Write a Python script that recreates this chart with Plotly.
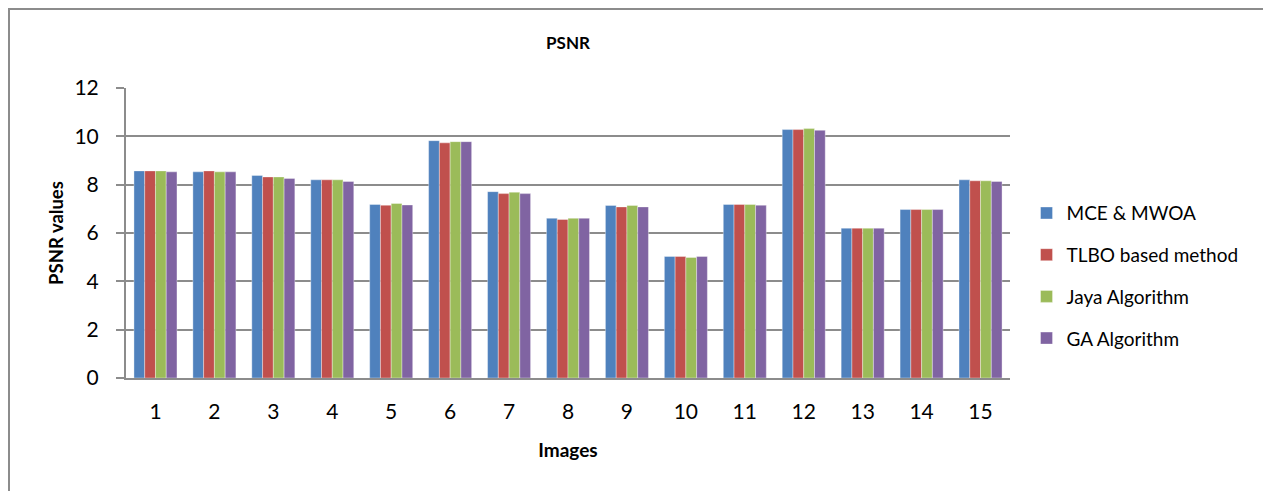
import plotly.graph_objects as go

images = [str(i) for i in range(1, 16)]
mce_mwoa = [8.57, 8.53, 8.38, 8.20, 7.18, 9.82, 7.71, 6.61, 7.14, 5.03, 7.18, 10.28, 6.20, 6.97, 8.20]
tlbo = [8.57, 8.57, 8.32, 8.20, 7.15, 9.73, 7.63, 6.56, 7.08, 5.03, 7.18, 10.28, 6.20, 6.97, 8.16]
jaya = [8.57, 8.53, 8.32, 8.20, 7.22, 9.78, 7.69, 6.61, 7.14, 4.99, 7.18, 10.32, 6.20, 6.97, 8.16]
ga = [8.53, 8.53, 8.26, 8.13, 7.16, 9.78, 7.63, 6.61, 7.08, 5.03, 7.15, 10.25, 6.20, 6.97, 8.13]

series_names = ["MCE & MWOA", "TLBO based method", "Jaya Algorithm", "GA Algorithm"]
series_values = [mce_mwoa, tlbo, jaya, ga]
colors = ["#4F81BD", "#C0504D", "#9BBB59", "#8064A2"]

FONT = "Lato, 'Open Sans', sans-serif"

fig = go.Figure()
for i, (name, vals, col) in enumerate(zip(series_names, series_values, colors)):
    fig.add_trace(go.Bar(
        x=images, y=vals, name=name, legendgroup=f"g{i}",
        marker=dict(color=col, line=dict(color="rgba(255,255,255,0.6)", width=0.6)),
    ))

W, H = 1263, 483
L, T, B = 118, 80, 113
PW, PH = 884, 290
R = W - L - PW

grid_col = "#8c8c8c"
fig.update_layout(
    width=W, height=H,
    margin=dict(l=L, r=R, t=T, b=B),
    paper_bgcolor="white", plot_bgcolor="white",
    barmode="group", bargap=0.27, bargroupgap=0,
    font=dict(family=FONT, color="black"),
    title=dict(text="<b>PSNR</b>", x=0.5, xref="paper", xanchor="center",
               y=1 - 35 / H, yanchor="middle", font=dict(size=17, family=FONT)),
    xaxis=dict(
        title=dict(text="<b>Images</b>", font=dict(size=19), standoff=21),
        tickfont=dict(size=21), ticklabelstandoff=14,
        showline=True, linecolor=grid_col, linewidth=2,
        ticks="", showgrid=False,
    ),
    yaxis=dict(
        title=dict(text="<b>PSNR values</b>", font=dict(size=18.5), standoff=6),
        range=[0, 12], dtick=2, tickfont=dict(size=21), ticklabelstandoff=13,
        showline=True, linecolor=grid_col, linewidth=2,
        ticks="outside", ticklen=8, tickcolor=grid_col, tickwidth=1.5,
        showgrid=True, gridcolor=grid_col, gridwidth=1.5, zeroline=False,
    ),
    legend=dict(
        x=1.0187, xanchor="left", y=0.353, yanchor="middle",
        font=dict(size=19), tracegroupgap=14, itemwidth=30,
        bgcolor="rgba(0,0,0,0)",
    ),
    shapes=[dict(
        type="rect", xref="paper", yref="paper",
        x0=(1 - L) / PW, x1=(1260 - L) / PW,
        y0=(T + PH - (H + 20)) / PH, y1=(T + PH - 1) / PH,
        line=dict(color="#8c8c8c", width=2), fillcolor="rgba(0,0,0,0)", layer="below",
    )],
)

fig.write_html("out.html")
